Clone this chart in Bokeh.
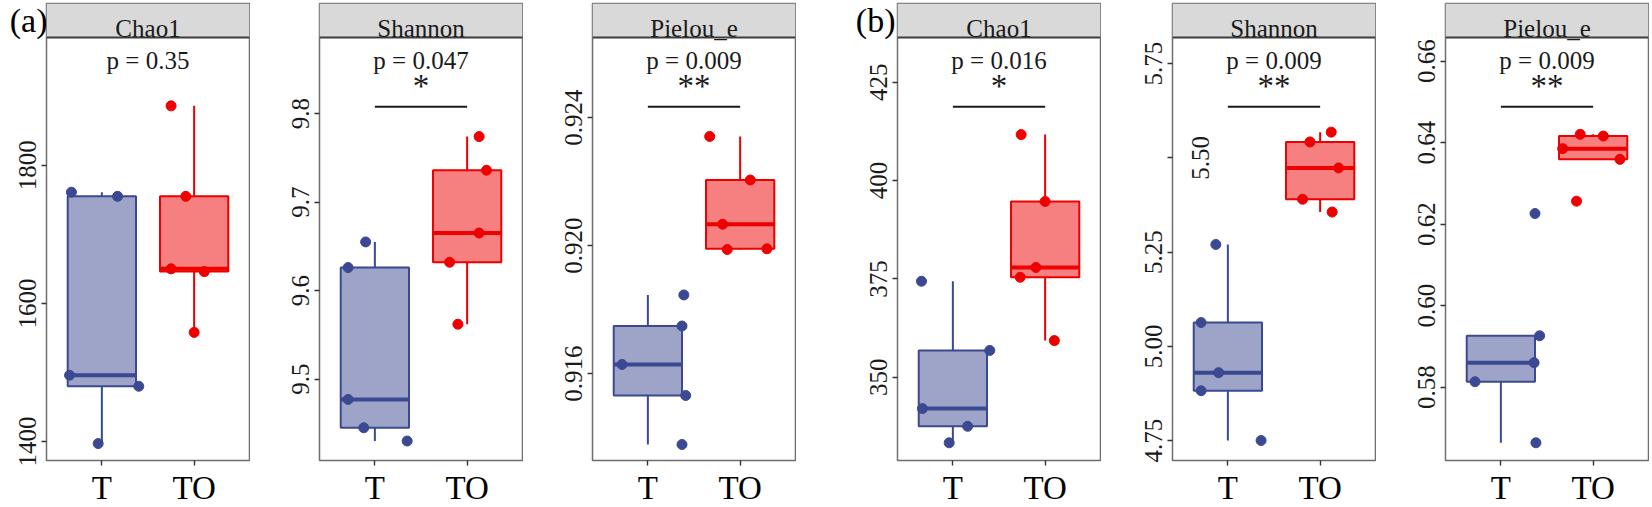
import numpy as np
from bokeh.plotting import figure
from bokeh.layouts import row
from bokeh.models import FixedTicker, Range1d, BoxAnnotation, Span, Label, LinearAxis
from bokeh.embed import file_html
from bokeh.resources import INLINE

# ------------------------------------------------------------------ data
groups = ["T", "TO"]
metrics = ["Chao1", "Shannon", "Pielou_e"]

# (a)
a_chao1_T = [1397, 1480, 1496, 1755, 1761]
a_chao1_TO = [1558, 1646, 1650, 1755, 1886]
a_shannon_T = [9.430, 9.445, 9.477, 9.626, 9.655]
a_shannon_TO = [9.562, 9.632, 9.665, 9.736, 9.774]
a_pielou_T = [0.91379, 0.91532, 0.91629, 0.91749, 0.91846]
a_pielou_TO = [0.91988, 0.91990, 0.92067, 0.92205, 0.92341]
# (b)
b_chao1_T = [333.3, 337.5, 342.0, 356.8, 374.4]
b_chao1_TO = [359.3, 375.4, 377.9, 394.7, 411.7]
b_shannon_T = [4.750, 4.882, 4.930, 5.063, 5.270]
b_shannon_TO = [5.356, 5.390, 5.473, 5.542, 5.568]
b_pielou_T = [0.56635, 0.58133, 0.58601, 0.59260, 0.62260]
b_pielou_TO = [0.62564, 0.63590, 0.63853, 0.64162, 0.64204]

# horizontal jitter of each point (same order as the values)
a_chao1_jT = [-0.04, 0.40, -0.35, 0.17, -0.33]
a_chao1_jTO = [0.00, 0.11, -0.25, -0.09, -0.25]
a_shannon_jT = [0.35, -0.12, -0.29, -0.29, -0.10]
a_shannon_jTO = [-0.10, -0.19, 0.13, 0.21, 0.13]
a_pielou_jT = [0.37, 0.41, -0.28, 0.37, 0.39]
a_pielou_jTO = [-0.14, 0.29, -0.19, 0.11, -0.33]
b_chao1_jT = [-0.04, 0.16, -0.33, 0.40, -0.34]
b_chao1_jTO = [0.10, -0.27, -0.10, 0.00, -0.26]
b_shannon_jT = [0.36, -0.29, -0.10, -0.29, -0.13]
b_shannon_jTO = [0.13, -0.19, 0.20, -0.11, 0.12]
b_pielou_jT = [0.38, -0.28, 0.36, 0.42, 0.37]
b_pielou_jTO = [-0.18, 0.29, -0.33, 0.11, -0.14]

a_p_values = ["p = 0.35", "p = 0.047", "p = 0.009"]
a_signif = ["", "*", "**"]
b_p_values = ["p = 0.016", "p = 0.009", "p = 0.009"]
b_signif = ["*", "**", "**"]
panel_letters = ["(a)", "(b)"]

a_chao1_ticks = [1400, 1600, 1800]
a_chao1_labels = ["1400", "1600", "1800"]
a_shannon_ticks = [9.5, 9.6, 9.7, 9.8]
a_shannon_labels = ["9.5", "9.6", "9.7", "9.8"]
a_pielou_ticks = [0.916, 0.920, 0.924]
a_pielou_labels = ["0.916", "0.920", "0.924"]
b_chao1_ticks = [350, 375, 400, 425]
b_chao1_labels = ["350", "375", "400", "425"]
b_shannon_ticks = [4.75, 5.00, 5.25, 5.50, 5.75]
b_shannon_labels = ["4.75", "5.00", "5.25", "5.50", "5.75"]
b_pielou_ticks = [0.58, 0.60, 0.62, 0.64, 0.66]
b_pielou_labels = ["0.58", "0.60", "0.62", "0.64", "0.66"]

# axis limits of each panel
a_chao1_lim = (1372.5, 1985.0)
a_shannon_lim = (9.408, 9.886)
a_pielou_lim = (0.91329, 0.9265)
b_chao1_lim = (328.8, 436.4)
b_shannon_lim = (4.697, 5.819)
b_pielou_lim = (0.5620, 0.6658)

# ------------------------------------------------------------------ style
FONT = "Liberation Serif"
COLORS = ["#3B4992", "#EE0000"]
FRAME_W = 203
STRIP_PX = 34
PLOT_PX = 423
BOX_HALF = 0.37


def box_stats(v):
    v = np.sort(np.asarray(v, dtype=float))
    q1, med, q3 = np.percentile(v, [25, 50, 75])
    iqr = q3 - q1
    lo = v[v >= q1 - 1.5 * iqr].min()
    hi = v[v <= q3 + 1.5 * iqr].max()
    return q1, med, q3, lo, hi


def make_panel(title, vals, jits, lim, ticks, labels, ptxt, sig, border_left,
               letter=None, letter_standoff=-30, inside_tick=None):
    lo, hi = lim
    span = hi - lo
    ext = span * STRIP_PX / PLOT_PX
    p = figure(frame_width=FRAME_W, frame_height=STRIP_PX + PLOT_PX,
               min_border_left=border_left, min_border_right=1,
               min_border_top=3, min_border_bottom=46,
               x_range=Range1d(0.4, 2.6), y_range=Range1d(lo, hi + ext),
               output_backend="svg", toolbar_location=None, title=None)
    p.grid.visible = False
    p.background_fill_color = "white"
    p.border_fill_color = "white"
    p.outline_line_color = "#6e6e6e"
    p.outline_line_width = 1.5

    # x axis
    xs = [1, 2]
    p.xaxis.ticker = FixedTicker(ticks=xs)
    p.xaxis.major_label_overrides = {x: g for x, g in zip(xs, groups)}
    p.xaxis.axis_line_color = None
    p.xaxis.major_tick_out = 5
    p.xaxis.major_tick_in = 0
    p.xaxis.major_tick_line_color = "#333333"
    p.xaxis.major_tick_line_width = 1.4
    p.xaxis.minor_tick_line_color = None
    p.xaxis.major_label_standoff = 4
    p.xaxis.major_label_text_font = FONT
    p.xaxis.major_label_text_font_size = "33px"
    p.xaxis.major_label_text_color = "black"

    # y axis
    p.yaxis.ticker = FixedTicker(ticks=ticks)
    ov = {t: l for t, l in zip(ticks, labels)}
    if inside_tick is not None:
        ov[inside_tick] = ""
    p.yaxis.major_label_overrides = ov
    p.yaxis.axis_line_color = None
    p.yaxis.major_tick_out = 5
    p.yaxis.major_tick_in = 0
    p.yaxis.major_tick_line_color = "#333333"
    p.yaxis.major_tick_line_width = 1.4
    p.yaxis.minor_tick_line_color = None
    p.yaxis.major_label_orientation = "vertical"
    p.yaxis.major_label_standoff = 5
    p.yaxis.major_label_text_font = FONT
    p.yaxis.major_label_text_font_size = "25px"
    p.yaxis.major_label_text_color = "#1a1a1a"

    # strip (facet header) inside the top of the frame
    p.add_layout(BoxAnnotation(bottom=hi, fill_color="#D9D9D9", fill_alpha=1.0,
                               line_color=None))
    p.add_layout(Span(location=hi, dimension="width", line_color="#3d3d3d",
                      line_width=2))
    p.add_layout(Label(x=1.5, y=hi + ext * 0.26, text=title, text_align="center",
                       text_baseline="alphabetic", text_font=FONT,
                       text_font_size="25px", text_color="#1a1a1a"))

    # panel letter, drawn as an extra left axis label beside the strip
    if letter:
        ypos = hi + ext * 0.6
        ax = LinearAxis(ticker=FixedTicker(ticks=[ypos]),
                        major_label_overrides={ypos: letter})
        ax.axis_line_color = None
        ax.major_tick_line_color = None
        ax.major_tick_out = 0
        ax.major_tick_in = 0
        ax.minor_tick_line_color = None
        ax.major_label_orientation = "horizontal"
        ax.major_label_standoff = letter_standoff
        ax.major_label_text_font = FONT
        ax.major_label_text_font_size = "34px"
        ax.major_label_text_color = "black"
        p.add_layout(ax, "left")

    # boxes
    for x, v, c in zip(xs, vals, COLORS):
        q1, med, q3, wl, wh = box_stats(v)
        p.segment(x0=[x, x], y0=[q3, q1], x1=[x, x], y1=[wh, wl],
                  line_color=c, line_width=2)
        p.quad(left=[x - BOX_HALF], right=[x + BOX_HALF], bottom=[q1], top=[q3],
               fill_color=c, fill_alpha=0.5, line_color=c, line_width=2)
        p.segment(x0=[x - BOX_HALF], y0=[med], x1=[x + BOX_HALF], y1=[med],
                  line_color=c, line_width=4)
    for x, v, j, c in zip(xs, vals, jits, COLORS):
        p.scatter(x=[x + d for d in j], y=v, size=10, color=c, line_color=c)

    # p-value and significance
    p.add_layout(Label(x=1.5, y=hi - 0.054 * span, text=ptxt, text_align="center",
                       text_baseline="alphabetic", text_font=FONT,
                       text_font_size="25px", text_color="#1a1a1a"))
    if sig:
        p.add_layout(Label(x=1.5, y=hi - 0.115 * span, text=sig, text_align="center",
                           text_baseline="alphabetic", text_font=FONT,
                           text_font_size="33px", text_color="#1a1a1a"))
        p.segment(x0=[xs[0]], y0=[hi - 0.164 * span], x1=[xs[1]],
                  y1=[hi - 0.164 * span], line_color="#1a1a1a", line_width=2)

    if inside_tick is not None:
        lab = labels[ticks.index(inside_tick)]
        p.add_layout(Label(x=0.70, y=inside_tick, text=lab, angle=np.pi / 2,
                           text_align="center", text_baseline="middle",
                           text_font=FONT, text_font_size="25px",
                           text_color="#1a1a1a"))
    return p


figs = [
    make_panel(metrics[0], [a_chao1_T, a_chao1_TO], [a_chao1_jT, a_chao1_jTO],
               a_chao1_lim, a_chao1_ticks, a_chao1_labels, a_p_values[0], a_signif[0],
               46, letter=panel_letters[0], letter_standoff=-31),
    make_panel(metrics[1], [a_shannon_T, a_shannon_TO], [a_shannon_jT, a_shannon_jTO],
               a_shannon_lim, a_shannon_ticks, a_shannon_labels, a_p_values[1], a_signif[1],
               69),
    make_panel(metrics[2], [a_pielou_T, a_pielou_TO], [a_pielou_jT, a_pielou_jTO],
               a_pielou_lim, a_pielou_ticks, a_pielou_labels, a_p_values[2], a_signif[2],
               69),
    make_panel(metrics[0], [b_chao1_T, b_chao1_TO], [b_chao1_jT, b_chao1_jTO],
               b_chao1_lim, b_chao1_ticks, b_chao1_labels, b_p_values[0], b_signif[0],
               101, letter=panel_letters[1], letter_standoff=-28),
    make_panel(metrics[1], [b_shannon_T, b_shannon_TO], [b_shannon_jT, b_shannon_jTO],
               b_shannon_lim, b_shannon_ticks, b_shannon_labels, b_p_values[1], b_signif[1],
               71, inside_tick=5.50),
    make_panel(metrics[2], [b_pielou_T, b_pielou_TO], [b_pielou_jT, b_pielou_jTO],
               b_pielou_lim, b_pielou_ticks, b_pielou_labels, b_p_values[2], b_signif[2],
               69),
]

layout = row(*figs, spacing=0)
open("out.html", "w").write(file_html(layout, INLINE))
